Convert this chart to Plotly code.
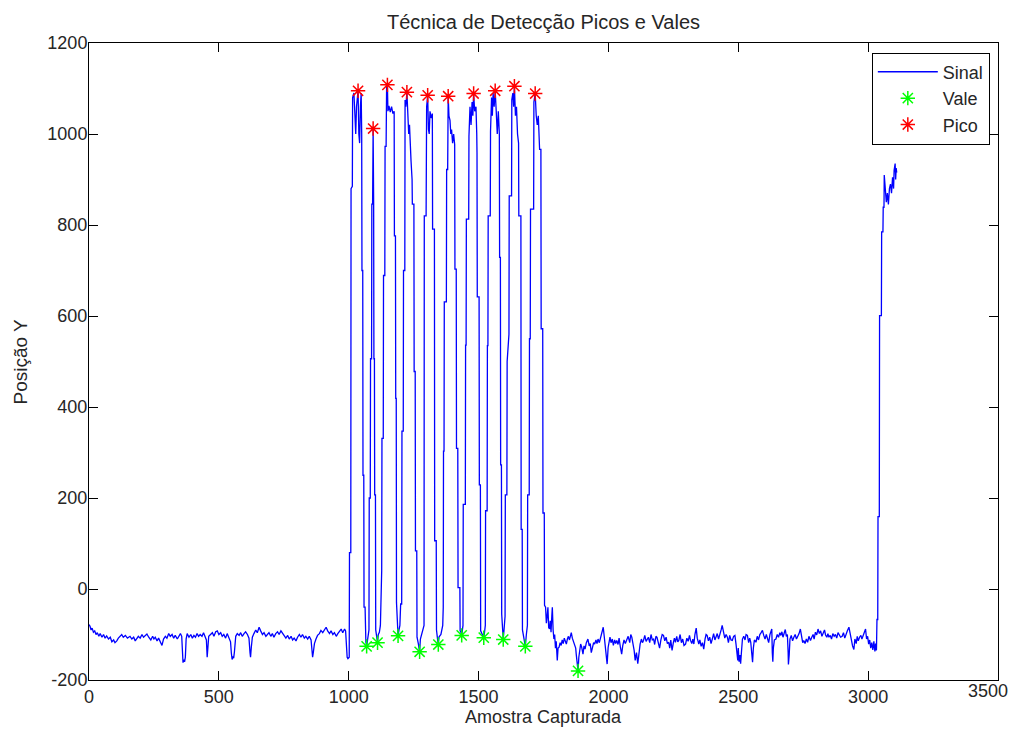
import plotly.graph_objects as go

# ---- Signal, split into segments ----
sample_pre = [0,4,8,12,17,22,27,32,38,43,50,56,62,68,75,82,88,95,100,107,113,120,126,132,140,148,158,165,172,178,
              184,190,197,204,210,217,223,230,238,245,250,255,262,268,275,281,287,294,300,307,313,320,326,332,340,346,
              352,357,360,362,365,368,371,374,378,385,392,398,404,410,416,422,428,435,441,447,452,455,458,461,468,475,
              481,488,494,500,507,513,519,526,532,539,545,548,551,554,557,560,565,571,578,584,590,597,603,610,616,620,
              622,625,629,635,642,648,655,661,668,674,681,687,693,700,706,712,719,726,732,739,745,752,758,765,771,778,
              784,790,797,803,810,816,822,829,835,842,848,855,858,861,864,868,874,880,887,893,900,906,913,919,926,932,
              939,945,952,958,965,971,977,984,988,991,994,997,1000]
posy_pre = [-78,-82,-90,-86,-95,-92,-100,-96,-104,-98,-106,-100,-108,-103,-110,-106,-116,-112,-118,-114,-108,-104,-100,-106,-102,-108,
            -104,-110,-106,-114,-110,-104,-108,-100,-106,-102,-99,-106,-112,-104,-110,-106,-114,-108,-118,-124,-110,-104,-108,-98,
            -104,-100,-108,-102,-110,-104,-98,-104,-150,-162,-155,-160,-150,-110,-98,-106,-100,-108,-102,-106,-98,-104,-100,-104,
            -96,-106,-112,-150,-130,-104,-100,-96,-104,-94,-92,-100,-96,-104,-100,-108,-98,-106,-116,-140,-155,-148,-152,-138,
            -104,-98,-102,-96,-104,-98,-94,-100,-108,-140,-150,-128,-106,-98,-90,-96,-84,-92,-100,-96,-104,-100,-96,-104,-98,
            -106,-98,-94,-100,-92,-98,-104,-108,-102,-110,-104,-112,-108,-114,-106,-100,-106,-100,-108,-104,-110,-104,-112,-140,
            -150,-138,-120,-110,-102,-98,-91,-96,-90,-84,-92,-98,-92,-100,-96,-104,-98,-92,-88,-96,-88,-92,-128,-150,-153,-150]

sample_mid = [1002,1003,1008,1009,1014,1015,1020,1024,1027,1030,1033,1036,1039,1042,1045,1048,1050,1051,1054,1055,1058,1059,1063,
              1064,1066,1069,1072,1075,1078,1079,1083,1084,1088,1089,1092,1094,1096,1097,1099,1100,1103,1104,1107,1111,1114,1118,
              1122,1125,1127,1128,1133,1134,1139,1140,1144,1146,1149,1151,1155,1160,1165,1170,1175,1176,1180,1181,1183,1184,1187,
              1190,1193,1197,1200,1204,1205,1210,1211,1216,1217,1220,1224,1228,1231,1234,1237,1240,1244,1245,1251,1252,1256,1257,
              1262,1263,1268,1273,1276,1280,1285,1290,1291,1298,1300,1304,1307,1310,1313,1318,1322,1323,1330,1331,1337,1338,1342,
              1345,1348,1355,1362,1364,1365,1367,1368,1376,1377,1381,1383,1386,1390,1393,1396,1400,1404,1408,1409,1414,1415,1420,
              1421,1428,1429,1432,1435,1438,1440,1441,1449,1450,1452,1453,1462,1463,1467,1471,1475,1478,1481,1485,1490,1493,1494,
              1495,1502,1503,1507,1508,1514,1520,1523,1526,1527,1533,1534,1536,1537,1545,1546,1550,1553,1556,1560,1564,1568,1572,
              1576,1580,1581,1584,1585,1588,1589,1592,1595,1598,1602,1603,1609,1610,1617,1618,1627,1628,1632,1635,1638,1642,1646,
              1650,1654,1655,1663,1664,1668,1669,1675,1680,1684,1688,1689,1695,1696,1699,1700,1712,1713,1718,1722,1726,1730,1734,
              1735,1740,1741,1747,1748,1753]
posy_mid = [-150,80,80,880,885,1080,1090,1040,1000,1060,1085,1095,1000,980,1060,1090,1000,700,700,250,250,-40,-40,
            -105,-115,-126,-110,-100,-90,200,200,506,506,846,846,1012,846,506,506,207,207,-90,-100,-118,-100,-95,
            -80,40,40,331,331,689,689,973,973,1108,1108,1050,1062,1048,1060,1045,1050,776,776,419,419,-30,-90,
            -103,-92,-80,-33,-33,347,347,700,700,1075,1060,1092,1030,1000,1020,960,940,900,846,846,478,478,84,
            84,-106,-120,-138,-110,-100,-92,-80,820,820,1060,1085,1010,1000,1050,1035,1045,791,791,106,106,-90,-110,
            -122,-105,-100,-80,-40,303,303,631,631,922,922,1083,1040,1030,1000,1010,980,1000,977,703,703,309,309,
            3,3,-92,-95,-102,-90,-80,186,186,536,536,813,813,995,1060,1020,1070,1040,1089,1050,1060,1000,959,
            642,642,229,229,-92,-100,-107,-95,-80,172,172,535,535,820,820,1006,1080,1040,1090,1060,1095,1050,1000,
            1050,1000,729,729,273,273,-55,-80,-111,-90,-60,207,207,500,560,864,864,1075,1090,1060,1105,1040,1060,
            1000,980,820,820,131,131,-90,-110,-126,-100,-80,207,207,550,550,835,835,1070,1089,1040,1020,1040,1000,
            966,966,572,572,167,167]

sample_post = [1754,1758,1761,1764,1767,1770,1773,1776,1779,1782,1784,1787,1790,1793,1796,1799,1803,1806,1810,1814,1818,1822,1826,
               1830,1834,1838,1842,1846,1850,1854,1857,1861,1865,1870,1874,1876,1880,1883,1886,1889,1893,1897,1902,1906,1910,
               1915,1921,1926,1930,1934,1938,1943,1947,1952,1956,1960,1965,1970,1975,1980,1984,1989,1992,1995,1999,2003,2006,
               2010,2015,2019,2024,2028,2032,2037,2041,2046,2051,2055,2060,2065,2071,2076,2082,2086,2090,2095,2099,2103,2108,
               2113,2117,2122,2127,2131,2135,2140,2145,2150,2154,2159,2164,2169,2174,2178,2183,2187,2192,2197,2202,2207,2212,
               2217,2222,2227,2232,2236,2240,2245,2250,2254,2258,2263,2267,2271,2276,2281,2286,2291,2297,2302,2307,2312,2316,
               2321,2325,2329,2333,2338,2342,2348,2352,2357,2362,2367,2372,2376,2380,2385,2390,2395,2400,2405,2410,2415,2419,
               2424,2429,2434,2438,2443,2448,2453,2458,2462,2467,2472,2477,2482,2487,2491,2495,2498,2500,2503,2506,2509,2512,
               2516,2521,2526,2530,2535,2540,2544,2548,2552,2555,2558,2562,2568,2573,2578,2583,2588,2593,2598,2603,2608,2612,
               2617,2622,2626,2629,2631,2633,2635,2639,2645,2650,2655,2660,2664,2668,2672,2676,2681,2685,2689,2692,2693,2696,
               2699,2704,2709,2714,2719,2724,2729,2734,2739,2744,2748,2752,2757,2762,2767,2772,2778,2783,2788,2792,2797,2802,
               2807,2812,2817,2822,2827,2832,2836,2841,2845,2849,2854,2859,2864,2869,2874,2879,2884,2889,2894,2900,2905,2910,
               2915,2920,2926,2930,2935,2940,2945,2949,2954,2958,2962,2967,2972,2976,2981,2986,2990,2994,2998,3002,3006,3010,
               3014,3018,3022,3026,3029,3032,3034,3037,3038,3043,3044,3051,3052,3057,3058,3061,3062,3066,3070,3074,3078,3082,
               3086,3090,3094,3098,3100,3104,3106,3108,3110]
posy_post = [-36,-40,-75,-60,-40,-85,-88,-70,-95,-60,-40,-90,-110,-100,-130,-115,-157,-130,-128,-118,-124,-112,-120,
             -108,-116,-121,-110,-104,-112,-100,-96,-108,-115,-121,-130,-143,-160,-180,-150,-135,-121,-128,-143,-125,-132,
             -118,-110,-125,-120,-140,-126,-118,-121,-112,-120,-110,-118,-106,-100,-84,-105,-140,-160,-165,-128,-112,-106,
             -118,-110,-124,-112,-120,-113,-122,-108,-128,-143,-125,-112,-120,-113,-104,-118,-100,-106,-120,-135,-157,-140,
             -164,-140,-121,-110,-118,-113,-102,-115,-108,-106,-118,-100,-112,-110,-122,-104,-106,-118,-130,-112,-100,-102,
             -114,-106,-120,-117,-130,-112,-135,-118,-108,-117,-104,-116,-113,-100,-118,-110,-124,-121,-108,-115,-102,-113,
             -120,-110,-121,-100,-86,-108,-121,-112,-126,-118,-132,-110,-100,-102,-114,-106,-120,-110,-98,-112,-104,-98,
             -110,-96,-90,-80,-95,-108,-100,-106,-118,-102,-112,-113,-104,-102,-120,-150,-157,-130,-160,-145,-164,-140,
             -110,-104,-112,-100,-102,-118,-108,-117,-140,-161,-130,-112,-117,-104,-112,-100,-96,-91,-102,-110,-100,-110,
             -118,-100,-95,-88,-140,-160,-130,-112,-110,-100,-106,-96,-102,-94,-106,-98,-89,-104,-100,-140,-166,-145,
             -110,-102,-114,-106,-100,-110,-104,-98,-88,-104,-118,-113,-120,-110,-117,-104,-113,-106,-100,-110,-95,-101,
             -88,-98,-92,-104,-96,-90,-101,-106,-98,-106,-102,-110,-98,-104,-100,-108,-96,-102,-106,-104,-96,-108,
             -98,-92,-84,-100,-110,-125,-133,-110,-120,-104,-114,-106,-102,-110,-100,-92,-88,-110,-104,-121,-112,-130,
             -118,-134,-115,-137,-120,-135,-67,-67,159,159,601,601,785,785,839,839,910,880,850,870,845,880,
             890,870,905,880,920,935,900,925,915]

# ---- Detected valleys (Vale) and peaks (Pico) ----
vale_x = [1069, 1111, 1190, 1273, 1345, 1435, 1520, 1595, 1680, 1883]
vale_y = [-126, -118, -103, -138, -122, -102, -107, -111, -126, -180]
pico_x = [1036, 1094, 1149, 1224, 1304, 1383, 1481, 1564, 1638, 1718]
pico_y = [1095, 1012, 1108, 1092, 1085, 1083, 1089, 1095, 1105, 1089]

x_ticks = [0, 500, 1000, 1500, 2000, 2500, 3000, 3500]
y_ticks = [-200, 0, 200, 400, 600, 800, 1000, 1200]

sample = sample_pre + sample_mid + sample_post
posy = posy_pre + posy_mid + posy_post

font_family = "Liberation Sans, Arial, sans-serif"
txt_color = "#262626"

# page body has an 8px margin: figure placed at (8, 8) and sized to fit the window
W, H = 1003, 721
ML, MR, MT, MB = 81, 13, 35, 49
plot_w = W - ML - MR
plot_h = H - MT - MB
plot_bottom = MT + plot_h  # in figure pixels


def y_paper(fig_px):
    """Figure-pixel row -> paper coordinate (for text placed under the axes)."""
    return (plot_bottom - fig_px) / plot_h


# last x tick label would be clipped at the page edge: drawn as a right-aligned annotation instead
x_ticktext = [str(v) for v in x_ticks[:-1]] + [""]

fig = go.Figure()
fig.add_trace(go.Scatter(x=sample, y=posy, mode="lines", name="Sinal",
                         line=dict(color="rgb(0,0,255)", width=1.3)))
fig.add_trace(go.Scatter(x=vale_x, y=vale_y, mode="markers", name="Vale",
                         marker=dict(symbol="asterisk-open", size=12,
                                     line=dict(color="rgb(0,255,0)", width=1.5), color="rgb(0,255,0)")))
fig.add_trace(go.Scatter(x=pico_x, y=pico_y, mode="markers", name="Pico",
                         marker=dict(symbol="asterisk-open", size=12,
                                     line=dict(color="rgb(255,0,0)", width=1.5), color="rgb(255,0,0)")))

axis_common = dict(showgrid=False, zeroline=False, showline=True, linecolor="black", linewidth=1,
                   mirror="ticks", ticks="inside", ticklen=9, tickcolor="black", tickwidth=1,
                   automargin=False,
                   tickfont=dict(family=font_family, size=18, color=txt_color))

fig.update_layout(
    width=W, height=H,
    paper_bgcolor="white", plot_bgcolor="white",
    margin=dict(l=ML, r=MR, t=MT, b=MB),
    font=dict(family=font_family, size=18, color=txt_color),
    title=dict(text="Técnica de Detecção Picos e Vales",
               x=0.5, xref="paper", y=1 - 14 / H, yref="container", xanchor="center", yanchor="middle",
               font=dict(family=font_family, size=20, color=txt_color)),
    xaxis=dict(range=[0, 3500], tickvals=x_ticks, ticktext=x_ticktext, **axis_common),
    yaxis=dict(range=[-200, 1200], tickvals=y_ticks, ticktext=[str(v) for v in y_ticks],
               ticklabelstandoff=-3, **axis_common),
    legend=dict(x=0.991, y=0.985, xanchor="right", yanchor="top", bgcolor="white",
                bordercolor="black", borderwidth=1, itemwidth=60,
                font=dict(family=font_family, size=18, color=txt_color), tracegroupgap=0),
    showlegend=True,
    annotations=[
        dict(text="Posição Y", textangle=-90, xref="paper", yref="paper",
             x=(20 - 8 - ML) / plot_w, y=0.5, xanchor="center", yanchor="middle",
             showarrow=False, font=dict(family=font_family, size=19, color=txt_color)),
        dict(text="Amostra Capturada", xref="paper", yref="paper",
             x=0.5, y=y_paper(709), xanchor="center", yanchor="middle",
             showarrow=False, font=dict(family=font_family, size=18, color=txt_color)),
        dict(text=str(x_ticks[-1]), xref="paper", yref="paper",
             x=1 + (MR - 1) / plot_w, y=y_paper(683), xanchor="right", yanchor="middle",
             showarrow=False, font=dict(family=font_family, size=18, color=txt_color)),
    ],
)

fig.write_html("out.html")
